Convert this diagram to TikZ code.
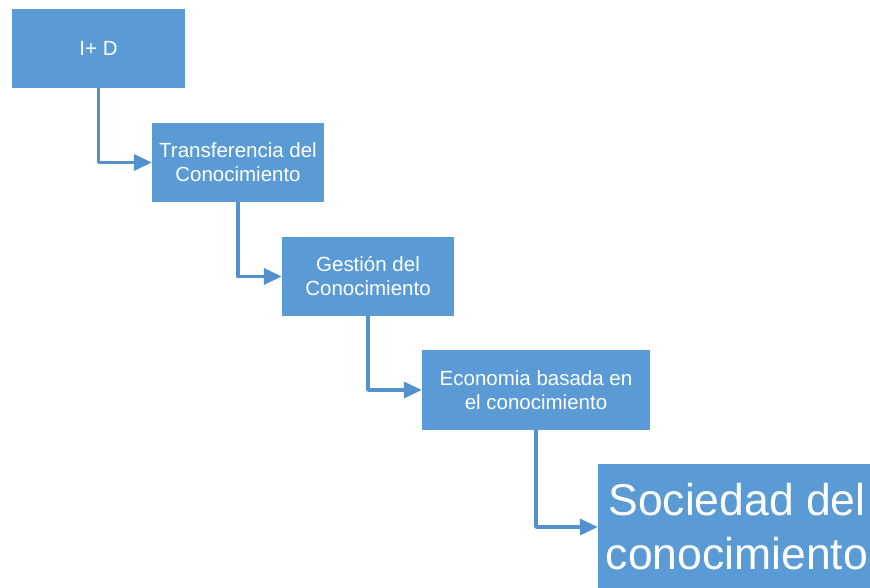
\documentclass[tikz,border=0pt]{standalone}
\usepackage{fontspec}
\setmainfont{Liberation Sans}
\usetikzlibrary{arrows.meta}
\definecolor{boxblue}{HTML}{5B9BD5}
\definecolor{linkblue}{HTML}{5290CE}
\begin{document}
\begin{tikzpicture}[x=1pt,y=-1pt,
  box/.style={fill=boxblue, text=white, inner sep=0pt, align=center,
    font=\fontsize{20.5}{24}\selectfont},
  link/.style={draw=linkblue, line width=3.5pt, line join=round,
    -{Triangle[length=18pt,width=16pt]}}]
\useasboundingbox (0,0) rectangle (870,588);
\fill[white] (0,0) rectangle (870,588);
\node[box, minimum width=173pt, minimum height=79pt] (rd) at (98.5,48.5) {I+ D};
\node[box, minimum width=172pt, minimum height=79pt] (tc) at (238,162.5) {Transferencia del\\Conocimiento};
\node[box, minimum width=172pt, minimum height=79pt] (gc) at (368,276.5) {Gestión del\\Conocimiento};
\node[box, minimum width=228pt, minimum height=80pt] (eb) at (536,390) {Economia basada en\\el conocimiento};
\node[box, minimum width=278pt, minimum height=126pt,
  font=\fontsize{44.5}{54}\selectfont] (sc) at (737,527) {Sociedad del\\conocimiento};
\draw[link] (rd.south) |- (tc.west);
\draw[link] (tc.south) |- (gc.west);
\draw[link] (gc.south) |- (eb.west);
\draw[link] (eb.south) |- (sc.west);
\end{tikzpicture}
\end{document}
